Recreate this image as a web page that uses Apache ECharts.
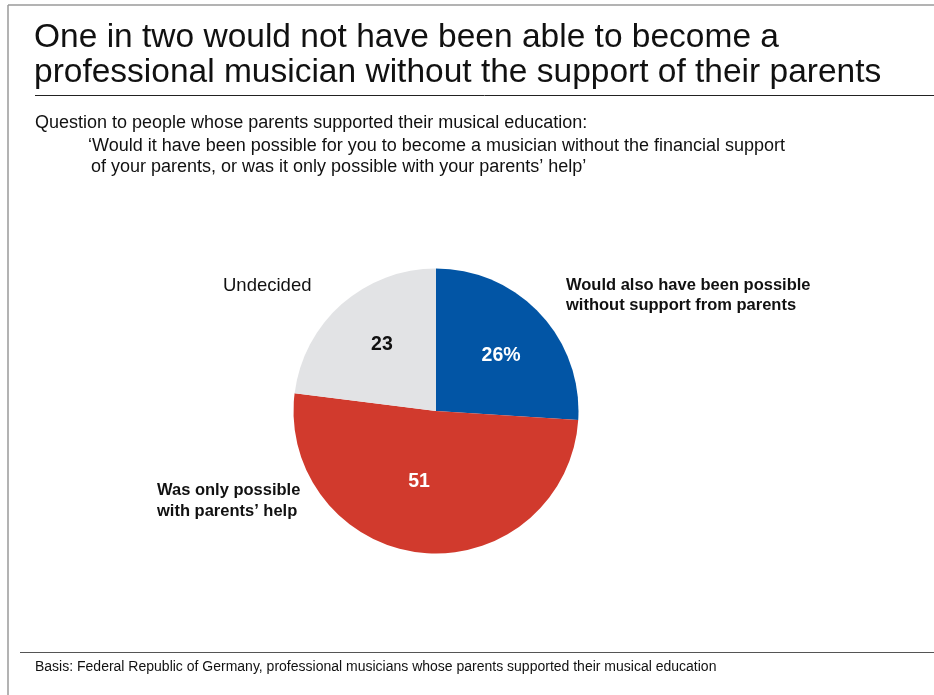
<!DOCTYPE html>
<html><head><meta charset="utf-8">
<script src="https://cdn.jsdelivr.net/npm/echarts@6/dist/echarts.min.js"></script>
<style>html,body{margin:0;padding:0;background:#fff}#c{width:934px;height:695px}</style>
</head><body><div id="c"></div>
<script>
const titleLines = ['One in two would not have been able to become a', 'professional musician without the support of their parents'];
const questionIntro = 'Question to people whose parents supported their musical education:';
const questionLines = ['\u2018Would it have been possible for you to become a musician without the financial support', ' of your parents, or was it only possible with your parents\u2019 help\u2019'];
const footnote = 'Basis: Federal Republic of Germany, professional musicians whose parents supported their musical education';
const categories = ['Would also have been possible\nwithout support from parents', 'Was only possible\nwith parents\u2019 help', 'Undecided'];
const values = [26, 51, 23];
const valueLabels = ['26%', '51', '23'];
const colors = ['#0255a5', '#d13a2d', '#e2e3e5'];
const labelColors = ['#ffffff', '#ffffff', '#111111'];

const font = 'Liberation Sans, Arial, sans-serif';
const chart = echarts.init(document.getElementById('c'), null, {renderer: 'canvas'});

// label placement (styling, not data)
const namePos = [
  {x: 566, y: 295, w: 'bold', s: 16.5, lh: 20},
  {x: 157, y: 501, w: 'bold', s: 16.5, lh: 21},
  {x: 223, y: 286, w: 'normal', s: 18.5, lh: 20}
];
const valueOffsets = [[11, -5], [-10, -3], [-5, -11]];

chart.setOption({
  animation: false,
  backgroundColor: '#fff',
  graphic: [
    {type: 'line', shape: {x1: 8, y1: 5, x2: 934, y2: 5}, style: {stroke: '#9a9a9a', lineWidth: 1.5}},
    {type: 'line', shape: {x1: 8, y1: 5, x2: 8, y2: 695}, style: {stroke: '#9a9a9a', lineWidth: 1.5}},
    {type: 'line', shape: {x1: 35, y1: 95.5, x2: 934, y2: 95.5}, style: {stroke: '#222', lineWidth: 1}},
    {type: 'line', shape: {x1: 20, y1: 652.5, x2: 934, y2: 652.5}, style: {stroke: '#555', lineWidth: 1}},
    {type: 'text', x: 34, y: 38, style: {text: titleLines[0], font: '33.5px ' + font, fill: '#111', textVerticalAlign: 'middle'}},
    {type: 'text', x: 34, y: 72.5, style: {text: titleLines[1], font: '33.5px ' + font, fill: '#111', textVerticalAlign: 'middle'}},
    {type: 'text', x: 35, y: 123, style: {text: questionIntro, font: '18px ' + font, fill: '#111', textVerticalAlign: 'middle'}},
    {type: 'text', x: 88, y: 146, style: {text: questionLines[0], font: '18px ' + font, fill: '#111', textVerticalAlign: 'middle'}},
    {type: 'text', x: 86, y: 167, style: {text: questionLines[1], font: '18px ' + font, fill: '#111', textVerticalAlign: 'middle'}},
    {type: 'text', x: 35, y: 667.5, style: {text: footnote, font: '14px ' + font, fill: '#111', textVerticalAlign: 'middle'}}
  ].concat(categories.map((c, i) => ({
    type: 'text', x: namePos[i].x, y: namePos[i].y,
    style: {text: c, font: namePos[i].w + ' ' + namePos[i].s + 'px ' + font, fill: '#111', textVerticalAlign: 'middle', lineHeight: namePos[i].lh}
  }))),
  series: [{
    type: 'pie',
    center: [436, 411],
    radius: [0, 142.5],
    startAngle: 90,
    clockwise: true,
    silent: true,
    itemStyle: {borderWidth: 0},
    label: {
      show: true, position: 'inside',
      formatter: p => valueLabels[p.dataIndex],
      fontFamily: font, fontSize: 19.5, fontWeight: 'bold'
    },
    labelLine: {show: false},
    data: values.map((v, i) => ({
      value: v, name: categories[i],
      itemStyle: {color: colors[i]},
      label: {color: labelColors[i], offset: valueOffsets[i]}
    }))
  }]
});
</script></body></html>
